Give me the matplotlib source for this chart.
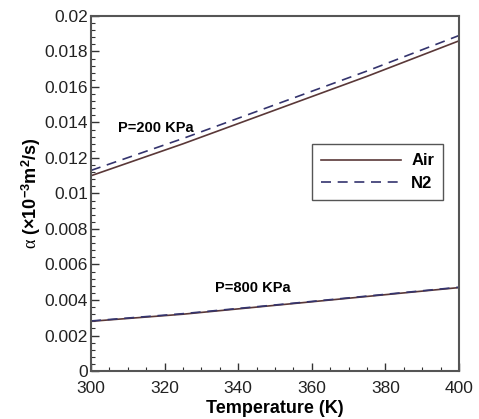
import matplotlib
matplotlib.use("Agg")
import matplotlib.pyplot as plt
from matplotlib.ticker import MultipleLocator, FuncFormatter

# temperature (K)
temp = [300, 325, 350, 375, 400]

# thermal diffusivity (x1e-3 m^2/s)
air_200 = [0.0110, 0.0128, 0.0147, 0.0166, 0.0186]
n2_200 = [0.0113, 0.0131, 0.0150, 0.0169, 0.0189]
air_800 = [0.0028, 0.0032, 0.0037, 0.0042, 0.0047]
n2_800 = [0.00282, 0.00323, 0.00372, 0.00422, 0.00472]

plt.rcParams['font.family'] = ['Liberation Sans', 'DejaVu Sans']
plt.rcParams['mathtext.fontset'] = 'custom'
plt.rcParams['mathtext.rm'] = 'Liberation Sans'
plt.rcParams['mathtext.bf'] = 'Liberation Sans:bold'
plt.rcParams['mathtext.it'] = 'Liberation Serif'

fig = plt.figure(figsize=(4.79, 4.19), dpi=100)
ax = fig.add_axes([91/479, 48/419, 368/479, 355/419])

air_col = '#5a3838'
n2_col = '#34346e'

ax.plot(temp, air_200, color=air_col, lw=1.2, label='Air')
ax.plot(temp, n2_200, color=n2_col, lw=1.2, ls=(0, (6, 4)), label='N2')
ax.plot(temp, air_800, color=air_col, lw=1.2)
ax.plot(temp, n2_800, color=n2_col, lw=1.2, ls=(0, (6, 4)))

ax.text(317.5, 0.0137, 'P=200 KPa', fontsize=10.5, fontweight='bold', ha='center', va='center')
ax.text(344, 0.0047, 'P=800 KPa', fontsize=10.5, fontweight='bold', ha='center', va='center')

ax.set_xlim(300, 400)
ax.set_ylim(0, 0.02)
ax.xaxis.set_major_locator(MultipleLocator(20))
ax.xaxis.set_minor_locator(MultipleLocator(5))
ax.yaxis.set_major_locator(MultipleLocator(0.002))
ax.yaxis.set_minor_locator(MultipleLocator(0.0004))
ax.yaxis.set_major_formatter(FuncFormatter(lambda v, p: '%g' % round(v, 4)))

ax.tick_params(which='both', direction='in', top=False, right=False, color='#333333')
ax.tick_params(which='major', length=6, width=1, labelsize=12.5, labelcolor='#222222')
ax.tick_params(axis='y', which='major', pad=2)
ax.tick_params(axis='x', which='major', pad=7)
ax.tick_params(which='minor', length=3, width=0.8)
for s in ax.spines.values():
    s.set_color('#555555')
    s.set_linewidth(1.5)

ax.set_xlabel('Temperature (K)', fontsize=13, fontweight='bold')
ax.xaxis.set_label_coords(0.5, -0.082)
ax.xaxis.label.set_va('top')
ax.set_ylabel(r'$\alpha$ (×10$^{\mathbf{-3}}$m$^{\mathbf{2}}$/s)', fontsize=13, fontweight='bold', labelpad=1)

leg = ax.legend(loc='center right', bbox_to_anchor=(0.98, 0.56),
                prop={'weight': 'bold', 'size': 12}, fancybox=False, framealpha=1,
                edgecolor='#555555', handlelength=4.8, borderpad=0.55,
                labelspacing=0.45, handletextpad=0.6)
leg.get_frame().set_linewidth(1.0)

fig.savefig('out.png', dpi=100)
